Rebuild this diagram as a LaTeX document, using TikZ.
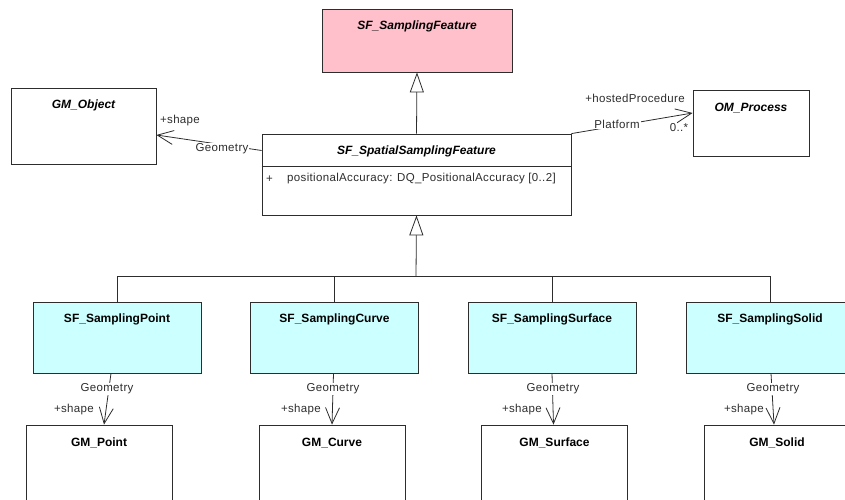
\documentclass[tikz,border=0pt]{standalone}
\usepackage{fontspec}
\setmainfont{Liberation Sans}
\usetikzlibrary{arrows.meta}
\definecolor{umlline}{RGB}{45,45,45}
\definecolor{abstractfill}{RGB}{255,192,203}
\definecolor{concretefill}{RGB}{204,255,255}

\tikzset{
  umlclass/.style={draw=umlline, line width=0.8pt, rectangle, inner sep=0pt, fill=white},
  abstractname/.style={label={[anchor=center, yshift=-18pt, font=\fontsize{12}{14}\selectfont\bfseries\itshape]north:#1}},
  classname/.style={label={[anchor=center, yshift=-18pt, font=\fontsize{12}{14}\selectfont\bfseries]north:#1}},
  assoc/.style={draw=umlline, line width=0.8pt, -{Straight Barb[length=16pt, width=14pt]}},
  plainline/.style={draw=umlline, line width=0.8pt},
  gen/.style={draw=umlline, line width=0.8pt, -{Triangle[open, length=20pt, width=14pt, fill=white]}},
  rolelabel/.style={font=\fontsize{11.5}{13}\selectfont\addfontfeatures{LetterSpace=3}, text=umlline, inner sep=1pt},
  assoclabel/.style={rolelabel, fill=white}
}

\begin{document}
\begin{tikzpicture}[x=1pt, y=-1pt]
    \useasboundingbox (0,0) rectangle (845,500);

    % classes
    \node[umlclass, fill=abstractfill, minimum width=190pt, minimum height=63pt,
      abstractname={SF\_SamplingFeature}] (sampfeat) at (417, 40.5) {};
    \node[umlclass, minimum width=309pt, minimum height=81pt,
      abstractname={SF\_SpatialSamplingFeature}] (spatial) at (416.5, 174.5) {};
    \node[umlclass, minimum width=145pt, minimum height=76pt,
      abstractname={GM\_Object}] (gmobject) at (83.5, 126) {};
    \node[umlclass, minimum width=116pt, minimum height=66pt,
      abstractname={OM\_Process}] (omprocess) at (751, 123) {};

    \node[umlclass, fill=concretefill, minimum width=168pt, minimum height=71pt,
      classname={SF\_SamplingPoint}] (sfpoint) at (117, 337.5) {};
    \node[umlclass, fill=concretefill, minimum width=168pt, minimum height=71pt,
      classname={SF\_SamplingCurve}] (sfcurve) at (334.5, 337.5) {};
    \node[umlclass, fill=concretefill, minimum width=168pt, minimum height=71pt,
      classname={SF\_SamplingSurface}] (sfsurface) at (552, 337.5) {};
    \node[umlclass, fill=concretefill, minimum width=168pt, minimum height=71pt,
      classname={SF\_SamplingSolid}] (sfsolid) at (770, 337.5) {};

    \node[umlclass, minimum width=146pt, minimum height=90pt,
      classname={GM\_Point}] (gmpoint) at (99, 470) {};
    \node[umlclass, minimum width=146pt, minimum height=90pt,
      classname={GM\_Curve}] (gmcurve) at (332, 470) {};
    \node[umlclass, minimum width=146pt, minimum height=90pt,
      classname={GM\_Surface}] (gmsurface) at (554.5, 470) {};
    \node[umlclass, minimum width=146pt, minimum height=90pt,
      classname={GM\_Solid}] (gmsolid) at (777, 470) {};

    % attribute compartment
    \draw[plainline] (spatial.west |- 0,166) -- (spatial.east |- 0,166);
    \node[rolelabel, anchor=west] (attrvis) at (265, 179) {+};
    \node[rolelabel, anchor=west] (attr) at (286, 179) {positionalAccuracy: DQ\_PositionalAccuracy [0..2]};

    % generalisations
    \coordinate (bus) at (416, 276);
    \draw[gen] (spatial.north) -- (sampfeat.south);
    \draw[gen] (bus) -- (spatial.south);
    \draw[plainline] (sfpoint.north) |- (bus);
    \draw[plainline] (sfcurve.north) |- (bus);
    \draw[plainline] (sfsurface.north) |- (bus);
    \draw[plainline] (sfsolid.north) |- (bus);

    % associations
    \draw[assoc] ([yshift=24pt]spatial.west) -- ([yshift=-9pt]gmobject.east);
    \node[assoclabel] (geomobj) at (222, 149) {Geometry};
    \node[rolelabel] (shapeobj) at (180, 121) {+shape};

    \draw[assoc] (spatial.north east) -- ([yshift=10pt]omprocess.west);
    \node[assoclabel] (platform) at (617, 124) {Platform};
    \node[rolelabel] (hosted) at (635, 98) {+hostedProcedure};
    \node[rolelabel] (mult) at (679, 128) {0..*};

    \draw[assoc] ([xshift=-6pt]sfpoint.south) -- ([xshift=5pt]gmpoint.north);
    \draw[assoc] ([xshift=-1pt]sfcurve.south) -- (gmcurve.north);
    \draw[assoc] (sfsurface.south) -- ([xshift=-1pt]gmsurface.north);
    \draw[assoc] ([xshift=1pt]sfsolid.south) -- ([xshift=-3pt]gmsolid.north);

    \node[assoclabel] (geompoint) at (107, 389) {Geometry};
    \node[assoclabel] (geomcurve) at (333, 389) {Geometry};
    \node[assoclabel] (geomsurface) at (553, 389) {Geometry};
    \node[assoclabel] (geomsolid) at (773, 389) {Geometry};
    \node[rolelabel, anchor=east] (shapepoint) at (95, 410) {+shape};
    \node[rolelabel, anchor=east] (shapecurve) at (322, 410) {+shape};
    \node[rolelabel, anchor=east] (shapesurface) at (543, 410) {+shape};
    \node[rolelabel, anchor=east] (shapesolid) at (765, 410) {+shape};
\end{tikzpicture}
\end{document}
